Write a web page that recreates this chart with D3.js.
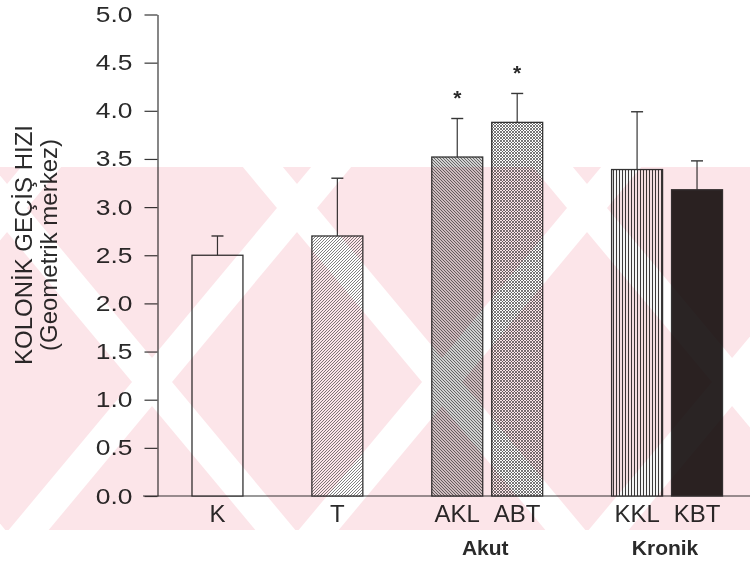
<!DOCTYPE html>
<html>
<head>
<meta charset="utf-8">
<script src="https://cdn.jsdelivr.net/npm/d3@7"></script>
<style>
  body { margin: 0; background: #fff; }
  text { font-family: "Liberation Sans", Arial, sans-serif; fill: #2a2a2a; }
</style>
</head>
<body>
<svg id="chart" width="750" height="566"></svg>
<script>
// data
var categories = ["K", "T", "AKL", "ABT", "KKL", "KBT"];
var slots = ["K", "gap1", "T", "gap2", "AKL", "ABT", "gap3", "KKL", "KBT"];
var means = [2.5, 2.7, 3.52, 3.88, 3.39, 3.18];
var errors = [0.2, 0.6, 0.4, 0.3, 0.6, 0.3];
var stars = [false, false, true, true, false, false];
var fills = ["white", "hatchT", "hatchAKL", "hatchABT", "hatchKKL", "solidKBT"];
var yTicks = [0, 0.5, 1, 1.5, 2, 2.5, 3, 3.5, 4, 4.5, 5];
var groupNames = ["Akut", "Kronik"];
var groupMembers = [["AKL", "ABT"], ["KKL", "KBT"]];
var titleLines = ["KOLONİK GEÇİŞ HIZI", "(Geometrik merkez)"];

var svg = d3.select("#chart");
var defs = svg.append("defs");

var x = d3.scaleBand().domain(slots).range([187.5, 727]).paddingInner(0.15).paddingOuter(0.075);
var y = d3.scaleLinear().domain([0, 5]).range([496, 14.5]);

// fill patterns of the bars
function pattern(id, size, path, color, width) {
	var p = defs.append("pattern").attr("id", id)
		.attr("patternUnits", "userSpaceOnUse")
		.attr("width", size).attr("height", size);
	p.append("rect").attr("width", size).attr("height", size).attr("fill", "#fff");
	p.append("path").attr("d", path).attr("stroke", color).attr("stroke-width", width);
}
pattern("hatchT", 3, "M-1,1 l2,-2 M0,3 l3,-3 M2,4 l2,-2", "#808080", 1);
pattern("hatchAKL", 3, "M-1,2 l2,2 M0,0 l3,3 M2,-1 l2,2", "#5e5e5e", 1.1);
pattern("hatchABT", 3, "M-1,2 l2,2 M0,0 l3,3 M2,-1 l2,2 M-1,1 l2,-2 M0,3 l3,-3 M2,4 l2,-2", "#555", 0.8);
pattern("hatchKKL", 3, "M1.5,0 V3", "#3a3a3a", 1.1);

function fillOf(f) {
	if (f == "white") return "#fff";
	if (f == "solidKBT") return "#2a2424";
	return "url(#" + f + ")";
}

var ink = "#363636";

// y axis
var yAxis = svg.append("g")
	.attr("transform", "translate(157.5,0)")
	.call(d3.axisLeft(y).tickValues(yTicks).tickSize(13).tickSizeOuter(0).tickPadding(12).tickFormat(d3.format(".1f")));
yAxis.select(".domain").attr("stroke", ink).attr("stroke-width", 1.2);
yAxis.selectAll(".tick line").attr("stroke", ink).attr("stroke-width", 1.2);
yAxis.selectAll(".tick text")
	.attr("font-size", 22)
	.attr("fill", "#2a2a2a")
	.attr("x", -25 / 1.2)
	.attr("transform", "scale(1.2,1)");

// x axis baseline
svg.append("line")
	.attr("x1", 143).attr("x2", 750)
	.attr("y1", y(0)).attr("y2", y(0))
	.attr("stroke", ink).attr("stroke-width", 1.2);

var xAxis = svg.append("g")
	.attr("transform", "translate(0," + y(0) + ")")
	.call(d3.axisBottom(x).tickValues(categories).tickSize(0).tickPadding(9));
xAxis.select(".domain").remove();
xAxis.selectAll(".tick text").attr("font-size", 24).attr("fill", "#2a2a2a");

// bars
var bars = svg.append("g");
categories.forEach(function(c, i) {
	var x0 = x(c), w = x.bandwidth(), cx = x0 + w / 2;
	var top = y(means[i]), cap = y(means[i] + errors[i]);
	bars.append("line")
		.attr("x1", cx).attr("x2", cx).attr("y1", top).attr("y2", cap)
		.attr("stroke", ink).attr("stroke-width", 1.2);
	bars.append("line")
		.attr("x1", cx - 6).attr("x2", cx + 6).attr("y1", cap).attr("y2", cap)
		.attr("stroke", ink).attr("stroke-width", 1.4);
	bars.append("rect")
		.attr("x", x0).attr("y", top)
		.attr("width", w).attr("height", y(0) - top)
		.attr("fill", fillOf(fills[i]))
		.attr("stroke", "#333").attr("stroke-width", 1.3);
	if (stars[i])
		bars.append("text")
			.attr("x", cx).attr("y", cap - 13.5)
			.attr("text-anchor", "middle")
			.attr("font-size", 21).attr("font-weight", "bold")
			.text("*");
});

// group labels under the pairs
groupNames.forEach(function(g, i) {
	var cs = groupMembers[i].map(function(c) { return x(c) + x.bandwidth() / 2; });
	svg.append("text")
		.attr("x", d3.mean(cs) - 2).attr("y", 555)
		.attr("text-anchor", "middle")
		.attr("font-size", 21).attr("font-weight", "bold")
		.attr("fill", "#222")
		.text(g);
});

// axis title, two rotated lines
var titleX = [32, 57];
titleLines.forEach(function(t, i) {
	svg.append("text")
		.attr("transform", "translate(" + titleX[i] + ",245) rotate(-90)")
		.attr("text-anchor", "middle")
		.attr("font-size", 24)
		.text(t);
});

// pink watermark stamped over the scan
defs.append("clipPath").attr("id", "wmclip")
	.append("rect").attr("x", 0).attr("y", 167).attr("width", 750).attr("height", 363);
var wm = svg.append("g")
	.attr("clip-path", "url(#wmclip)")
	.style("mix-blend-mode", "multiply");
wm.append("rect").attr("x", 0).attr("y", 167).attr("width", 750).attr("height", 363).attr("fill", "#fce5e9");
var k = 1.2, hw = 20, cy = 382;
[-138, 152, 442, 732, 1022].forEach(function(cx) {
	[1, -1].forEach(function(s) {
		var yA = 100, yB = 600;
		var xa = cx + s * (cy - yA) / k, xb = cx + s * (cy - yB) / k;
		wm.append("polygon")
			.attr("points", [[xa - hw, yA], [xa + hw, yA], [xb + hw, yB], [xb - hw, yB]].join(" "))
			.attr("fill", "#fff");
	});
});
</script>
</body>
</html>
